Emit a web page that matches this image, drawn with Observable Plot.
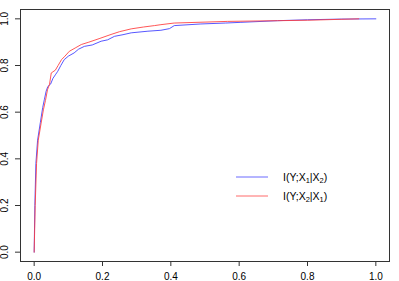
<!DOCTYPE html>
<html>
<head>
<meta charset="utf-8">
<script src="https://cdn.jsdelivr.net/npm/d3@7"></script>
<script src="https://cdn.jsdelivr.net/npm/@observablehq/plot@0.6"></script>
<style>
  html, body { margin: 0; padding: 0; background: #fff; }
  #wrap { position: relative; width: 399px; height: 281px; font-family: "Liberation Sans", Arial, sans-serif; }
  .leg { position: absolute; left: 236px; font-size: 10.5px; color: #000; }
  .leg svg { position: absolute; left: 0; top: -2px; overflow: visible; }
  .leg .lab { position: absolute; left: 47px; white-space: nowrap; line-height: 1; }
  .leg sub { font-size: 7.5px; vertical-align: -2px; line-height: 0; }
</style>
</head>
<body>
<div id="wrap"></div>
<script>
// Series 1: I(Y;X1|X2)  (blue)
const blueX = [0, 0.002, 0.005, 0.010, 0.018, 0.025, 0.030, 0.035, 0.040, 0.048, 0.055, 0.062, 0.069, 0.078, 0.088, 0.100, 0.117, 0.130, 0.147, 0.170, 0.196, 0.215, 0.235, 0.260, 0.284, 0.333, 0.371, 0.396, 0.410, 0.488, 0.560, 0.605, 0.712, 0.800, 0.900, 1.000];
const blueY = [0, 0.20, 0.38, 0.48, 0.555, 0.62, 0.655, 0.69, 0.71, 0.72, 0.745, 0.76, 0.775, 0.80, 0.825, 0.84, 0.854, 0.87, 0.882, 0.888, 0.904, 0.91, 0.925, 0.932, 0.94, 0.947, 0.951, 0.958, 0.971, 0.978, 0.982, 0.985, 0.992, 0.996, 0.999, 1.000];
// Series 2: I(Y;X2|X1)  (red)
const redX = [0, 0.003, 0.007, 0.012, 0.020, 0.027, 0.033, 0.039, 0.045, 0.050, 0.062, 0.070, 0.080, 0.090, 0.103, 0.120, 0.138, 0.160, 0.190, 0.225, 0.250, 0.284, 0.320, 0.352, 0.371, 0.410, 0.500, 0.566, 0.712, 0.800, 0.950];
const redY = [0, 0.20, 0.38, 0.48, 0.55, 0.61, 0.65, 0.696, 0.72, 0.768, 0.78, 0.80, 0.825, 0.84, 0.861, 0.875, 0.89, 0.90, 0.915, 0.933, 0.945, 0.957, 0.965, 0.971, 0.975, 0.982, 0.986, 0.989, 0.992, 0.994, 1.000];

const xTicks = [0, 0.2, 0.4, 0.6, 0.8, 1.0];
const yTicks = [0, 0.2, 0.4, 0.6, 0.8, 1.0];
const seriesNames = ["I(Y;X<sub>1</sub>|X<sub>2</sub>)", "I(Y;X<sub>2</sub>|X<sub>1</sub>)"];
const seriesColors = ["#3a3aff", "#ff3a3a"];

const blue = blueX.map((x, i) => ({x, y: blueY[i]}));
const red = redX.map((x, i) => ({x, y: redY[i]}));

const font = "Liberation Sans, Arial, sans-serif";

const chart = Plot.plot({
  width: 399,
  height: 281,
  marginLeft: 20,
  marginRight: 10,
  marginTop: 9,
  marginBottom: 20,
  style: {fontFamily: font, fontSize: "10px", background: "white", color: "#000"},
  x: {domain: [-0.04, 1.04]},
  y: {domain: [-0.04, 1.04]},
  marks: [
    Plot.axisX({ticks: xTicks, tickSize: 5, tickPadding: 6, tickFormat: d => d.toFixed(1), label: null, fontSize: 10, stroke: "#333"}),
    Plot.axisY({ticks: yTicks, tickSize: 5, tickFormat: () => "", label: null, stroke: "#333"}),
    Plot.text(yTicks, {y: d => d, frameAnchor: "left", dx: -16, rotate: -90, text: d => d.toFixed(1), fontSize: 10, textAnchor: "middle", lineAnchor: "middle", fill: "#000"}),
    Plot.line(blue, {x: "x", y: "y", stroke: seriesColors[0], strokeWidth: 1, strokeOpacity: 0.85}),
    Plot.line(red, {x: "x", y: "y", stroke: seriesColors[1], strokeWidth: 1, strokeOpacity: 0.85}),
    Plot.frame({stroke: "#333"})
  ]
});

const wrap = document.getElementById("wrap");
wrap.appendChild(chart);

const legTops = [177, 196];
seriesNames.forEach((name, i) => {
  const d = document.createElement("div");
  d.className = "leg";
  d.style.top = legTops[i] + "px";
  d.innerHTML = `<svg width="32" height="4"><line x1="0" x2="32" y1="2" y2="2" stroke="${seriesColors[i]}" stroke-opacity="0.75" stroke-width="1"/></svg><div class="lab" style="top:-5px">${name}</div>`;
  wrap.appendChild(d);
});
</script>
</body>
</html>
